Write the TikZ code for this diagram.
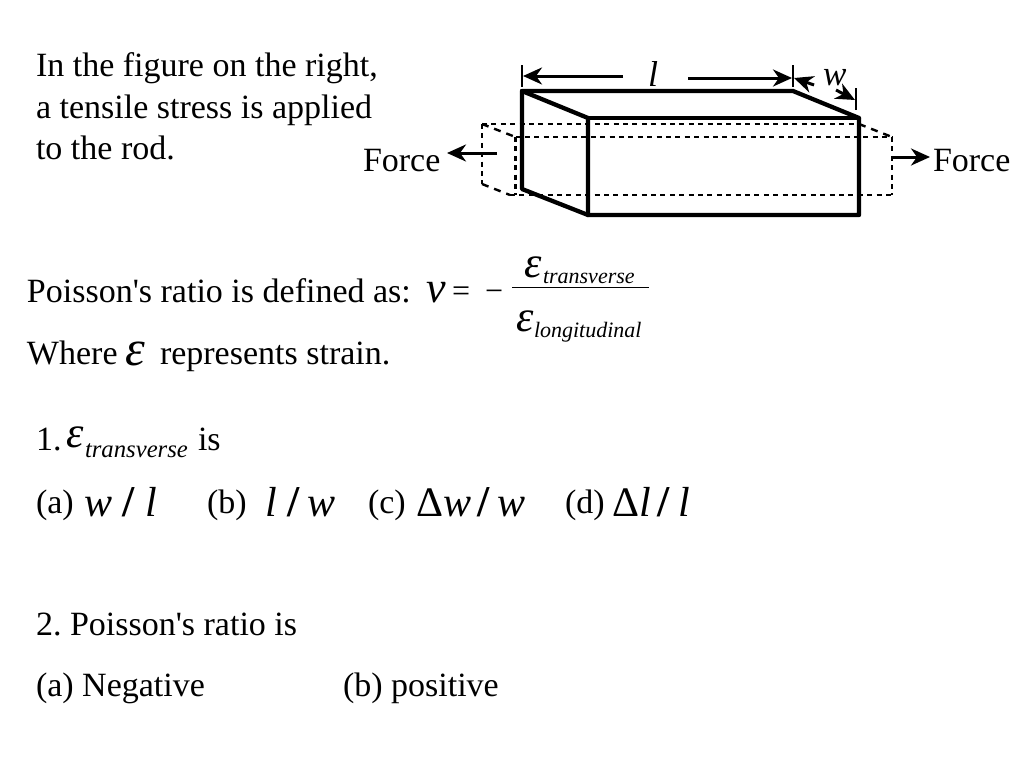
\documentclass[tikz,border=0pt]{standalone}
\usepackage{fontspec}
\setmainfont{Liberation Serif}
\newfontfamily\plainserif{Liberation Serif}
\usetikzlibrary{arrows.meta}
\newcommand{\fs}[1]{\fontsize{#1}{#1}\selectfont}
\newcommand{\rs}{\upshape\bfseries\fontsize{44}{44}\selectfont /}
\tikzset{
  x=1pt,y=-1pt,
  txt/.style={anchor=base west,inner sep=0pt,outer sep=0pt,font=\plainserif\frenchspacing\fs{34}},
  mth/.style={anchor=base west,inner sep=0pt,outer sep=0pt,font=\fs{42}\itshape},
  eps/.style={anchor=base west,inner sep=0pt,outer sep=0pt,font=\fs{44}\itshape},
  sub/.style={anchor=base west,inner sep=0pt,outer sep=0pt,font=\fs{22}\itshape},
  solid edge/.style={line width=4.3pt,line join=round,line cap=round},
  dash edge/.style={line width=2.8pt,dash pattern=on 5pt off 4.4pt},
  tick/.style={line width=1.8pt},
  arr/.style={line width=3pt,-{Stealth[length=19pt,width=17pt,inset=6pt]}}
}
\begin{document}
\begin{tikzpicture}
\useasboundingbox (0,0) rectangle (1024,768);
% text
\node[txt] (t1) at (36,76) {In the figure on the right,};
\node[txt] (t2) at (36,118) {a tensile stress is applied};
\node[txt] (t3) at (36,159) {to the rod.};
\node[txt] (fl) at (363,171) {Force};
\node[txt] (fr) at (933,171) {Force};
\node[mth,font=\fs{36}\itshape] (ll) at (648,86) {l};
\node[mth,font=\fs{35}\itshape] (lw) at (823,85) {w};
% dashed rod
\coordinate (da) at (482,124);
\coordinate (db) at (482,184);
\coordinate (dc) at (515.5,137);
\coordinate (dd) at (510,195);
\coordinate (de) at (515.5,195);
\coordinate (df) at (859,124);
\coordinate (dg) at (892,137);
\coordinate (dh) at (892,195);
\draw[dash edge] (da) -- (df);
\draw[dash edge] (dc) -- (dg);
\draw[dash edge] (dd) -- (dh);
\draw[dash edge] (da) -- (db);
\draw[dash edge] (dc) -- (de);
\draw[dash edge] (dg) -- (dh);
\draw[line width=2.4pt,dash pattern=on 7pt off 6pt] (da) -- (dc);
\draw[line width=2.4pt,dash pattern=on 7pt off 6pt] (db) -- (dd);
\draw[line width=2.4pt,dash pattern=on 7pt off 6pt] (df) -- (dg);
% solid rod
\coordinate (a) at (522,91);
\coordinate (b) at (793,91);
\coordinate (c) at (859,118);
\coordinate (d) at (588,118);
\coordinate (e) at (588,215);
\coordinate (f) at (859,215);
\coordinate (g) at (522,189);
\draw[solid edge] (a) -- (b) -- (c) -- (f) -- (e) -- (g) -- cycle;
\draw[solid edge] (a) -- (d) -- (e);
\draw[solid edge] (d) -- (c);
% dimension lines
\coordinate (t1a) at (522,65); \coordinate (t1b) at (522,87);
\coordinate (t2a) at (793,65); \coordinate (t2b) at (793,87);
\coordinate (t3a) at (856,88); \coordinate (t3b) at (856,110);
\draw[tick] (t1a) -- (t1b);
\draw[tick] (t2a) -- (t2b);
\draw[tick] (t3a) -- (t3b);
\coordinate (l1) at (623,76); \coordinate (l1e) at (523,76);
\coordinate (l2) at (688,78); \coordinate (l2e) at (792,78);
\coordinate (w1) at (814,85); \coordinate (w1e) at (794,78);
\coordinate (w2) at (836,90); \coordinate (w2e) at (855,100);
\draw[arr] (l1) -- (l1e);
\draw[arr] (l2) -- (l2e);
\draw[arr] (w1) -- (w1e);
\draw[arr] (w2) -- (w2e);
% force arrows
\coordinate (fa) at (497,153); \coordinate (fae) at (447,153);
\coordinate (fb) at (892,157); \coordinate (fbe) at (930,157);
\draw[arr] (fa) -- (fae);
\draw[arr] (fb) -- (fbe);
% definition
\node[txt] (p1) at (27,302) {Poisson's ratio is defined as:};
\node[eps] (nu) at (426,302) {ν};
\node[txt,font=\plainserif\fs{32}] (eq) at (452,301) {=};
\node[txt,font=\plainserif\fs{32}] (mn) at (485,301) {−};
\node[eps] (e1) at (524,277) {ε};
\node[sub] (e1s) at (543,283) {transverse};
\coordinate (fr1) at (512,287.5); \coordinate (fr2) at (649,287.5);
\draw[line width=1.3pt] (fr1) -- (fr2);
\node[eps] (e2) at (516,331) {ε};
\node[sub] (e2s) at (534,337) {longitudinal};
\node[txt] (w0) at (27,364) {Where};
\node[eps,font=\fs{50}\itshape] (w1n) at (125,365) {ε};
\node[txt] (w2n) at (160,364) {represents strain.};
% question 1
\node[txt] (q1) at (36,450) {1.};
\node[eps] (q1e) at (66,447) {ε};
\node[sub,font=\fs{24.7}\itshape] (q1s) at (85,457) {transverse};
\node[txt] (q1i) at (198,450) {is};
\node[txt] (oa) at (36,513) {(a)};
\node[mth] (oam) at (84,516) {w {\rs} l};
\node[txt] (ob) at (207,513) {(b)};
\node[mth] (obm) at (265,516) {l {\rs}\hspace{8pt}w};
\node[txt] (oc) at (368,513) {(c)};
\node[mth] (ocm) at (416,516) {{\upshape Δ}w\hspace{6pt}{\rs}\hspace{8pt}w};
\node[txt] (od) at (565,513) {(d)};
\node[mth] (odm) at (612,516) {{\upshape Δ}l\hspace{7pt}{\rs}\hspace{9pt}l};
% question 2
\node[txt] (q2) at (36,635) {2. Poisson's ratio is};
\node[txt] (na) at (36,696) {(a) Negative};
\node[txt] (nb) at (343,696) {(b) positive};
\end{tikzpicture}
\end{document}
